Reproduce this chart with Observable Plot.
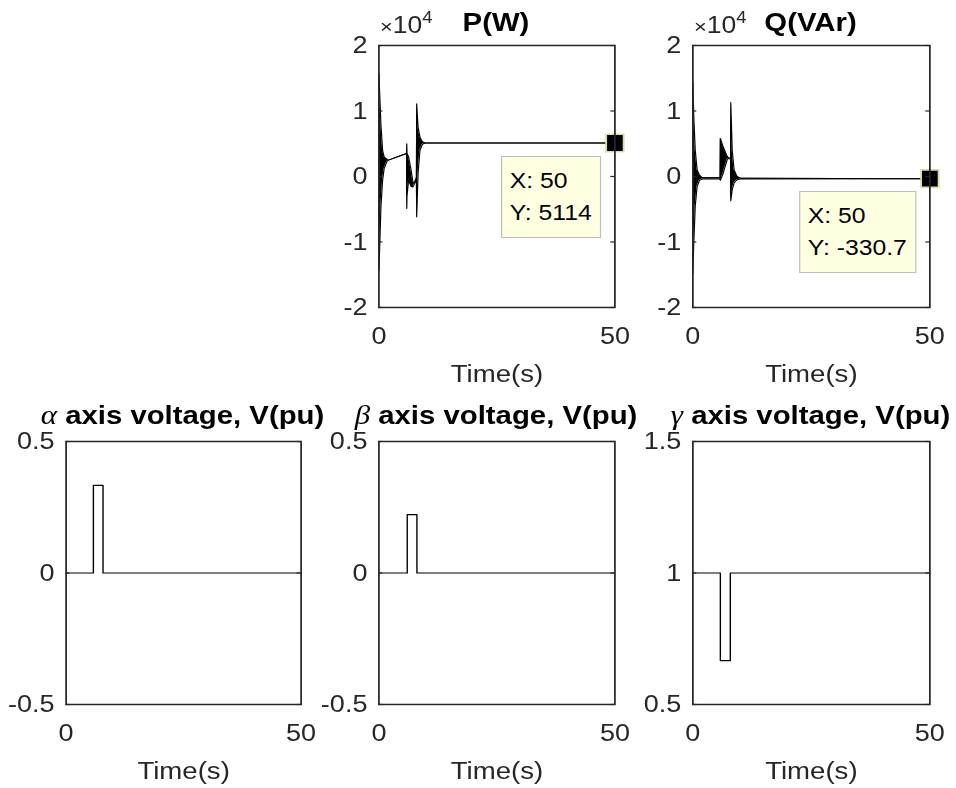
<!DOCTYPE html>
<html><head><meta charset="utf-8">
<script src="https://cdn.jsdelivr.net/npm/d3@7"></script>
<script src="https://cdn.jsdelivr.net/npm/@observablehq/plot@0.6"></script>
<style>
html,body{margin:0;padding:0;background:#fff;}
#page{position:relative;width:956px;height:788px;overflow:hidden;background:#fff;}
#wrap{position:absolute;left:0;top:0;height:788px;transform-origin:0 0;font-family:"Liberation Sans",Arial,sans-serif;}
.panel{position:absolute;}
.title{position:absolute;white-space:nowrap;font-weight:bold;color:#000;font-size:25.5px;line-height:24px;transform:translateX(-50%);}
.greek{font-family:"Liberation Serif","DejaVu Serif",serif;font-style:italic;font-weight:normal;font-size:27px;}
.exp{position:absolute;white-space:nowrap;color:#262626;font-size:23px;line-height:23px;}
.exp .times{font-size:19px;}
.exp sup{font-size:16px;vertical-align:10px;line-height:0;}
.tip{position:absolute;background:#ffffe1;border:1px solid #bdbdbd;color:#000;font-size:21.5px;line-height:32px;padding:8px 7px;white-space:nowrap;transform:translateX(-100%);}
</style></head><body><div id="page"><div id="wrap"></div></div>
<script>
// ---------------- data ----------------
const xTicks = [0, 50];
const pqTicks = [-20000, -10000, 0, 10000, 20000];
const alphaTicks = [-0.5, 0, 0.5];
const betaTicks = [-0.5, 0, 0.5];
const gammaTicks = [0.5, 1, 1.5];

// P(W): time, upper and lower envelope of the oscillating trace
const pTime  = [0,     0.2,   0.42,  0.78,  1.1,  1.7,  2.0,  5.85, 5.9,   5.95,  6.3,  6.8,   7.2,   7.5,   7.95, 8.0,   8.3,  8.7,  9.2,  9.8,  50];
const pUpper = [15700, 12000, 8000,  4000,  3000, 2600, 2500, 3500, 5000,  3500,  3000, 1000,  -800,  -1000, -200, 11100, 7500, 6000, 5300, 5120, 5114];
const pLower = [-14300,-10000,-4700, -600,  1200, 2300, 2500, 3500, -4900, -3000, -500, -1500, -1600, -1200, -400, -6200, 500,  4000, 4900, 5110, 5114];

// Q(VAr)
const qTime  = [0,     0.2,   0.5,   0.9,   1.4,  2.0,  5.75, 5.8,  6.4,  7.0,  7.3,  7.95, 8.0,   8.3,  8.7,  9.3,  10.1, 50];
const qUpper = [14500, 9000,  4000,  1000,  200,  -200, -200, 5800, 4500, 3500, 3000, 2700, 11300, 4000, 1000, 0,    -250, -330.7];
const qLower = [-14800,-10000,-4500, -1500, -600, -400, -400, -600, 500,  2000, 2700, 2700, -3700, -2000,-1000,-500, -400, -330.7];

// voltages (step after each time)
const alphaTime = [0, 5.8, 7.85, 50];
const alphaV    = [0, 0.333, 0, 0];
const betaTime  = [0, 6.0, 8.05, 50];
const betaV     = [0, 0.222, 0, 0];
const gammaTime = [0, 5.8, 7.9, 50];
const gammaV    = [1, 0.667, 1, 1];

// data tips
const pTip = {x: 50, y: 5114};
const qTip = {x: 50, y: -330.7};

// ---------------- layout ----------------
const S = 1.15;            // horizontal stretch of the original figure
const wrap = document.getElementById("wrap");
wrap.style.width = (956 / S) + "px";
wrap.style.transform = `scaleX(${S})`;

const mL = 70, mR = 24, mT = 50, mB = 84;
const frames = {
  P: {L: 378, R: 614, T: 45, B: 307},
  Q: {L: 692, R: 929, T: 45, B: 307},
  A: {L: 65,  R: 300, T: 441, B: 704},
  B: {L: 378, R: 614, T: 441, B: 704},
  G: {L: 692, R: 929, T: 441, B: 704}
};

const tipSymbol = {draw(ctx) { const s = 17.5; ctx.rect(-s / 2 / S, -s / 2, s / S, s); }};

function zip(t, a, b) { return t.map((d, i) => ({t: d, hi: a[i], lo: b[i]})); }

function panel(fr, yDomain, yTicks, yFormat, marks) {
  const fw = (fr.R - fr.L) / S, fh = fr.B - fr.T;
  const tl = 4 / S;
  const plot = Plot.plot({
    width: mL + fw + mR, height: mT + fh + mB,
    marginLeft: mL, marginRight: mR, marginTop: mT, marginBottom: mB,
    style: {background: "transparent", overflow: "visible", fontFamily: "Liberation Sans, Arial, sans-serif", fontSize: "23.5px", color: "#262626"},
    x: {domain: [0, 50], ticks: xTicks, tickSize: 0, tickPadding: 20, tickFormat: d => String(d), label: null},
    y: {domain: yDomain, ticks: yTicks, tickSize: 0, tickPadding: 10, tickFormat: yFormat, label: null},
    marks: [
      ...marks,
      Plot.ruleY(yTicks, {y: d => d, stroke: "#262626", strokeWidth: 1.2, insetRight: fw - tl}),
      Plot.ruleY(yTicks, {y: d => d, stroke: "#262626", strokeWidth: 1.2, insetLeft: fw - tl}),
      Plot.frame({stroke: "#262626", strokeWidth: 1.5}),
      Plot.text(["Time(s)"], {text: d => d, frameAnchor: "bottom", dy: 75, fontSize: 24, fill: "#262626"})
    ]
  });
  plot.classList.add("panel");
  const left = fr.L / S - mL, top = fr.T - mT;
  plot.style.position = "absolute";
  plot.style.left = left + "px";
  plot.style.top = top + "px";
  wrap.appendChild(plot);
  return {plot, left, top};
}

function envelopeMarks(data, tip) {
  return [
    Plot.areaY(data, {x: "t", y1: "lo", y2: "hi", fill: "black"}),
    Plot.line(data, {x: "t", y: "hi", stroke: "black", strokeWidth: 1}),
    Plot.line(data, {x: "t", y: "lo", stroke: "black", strokeWidth: 1}),
    Plot.dot([tip], {x: "x", y: "y", symbol: tipSymbol, r: 5, fill: "black", stroke: "#dcdcaa", strokeWidth: 1.6})
  ];
}
function stepMarks(t, v) {
  const data = t.map((d, i) => ({t: d, v: v[i]}));
  return [Plot.line(data, {x: "t", y: "v", curve: "step-after", stroke: "black", strokeWidth: 1.2})];
}

const fmt4 = d => String(d / 1e4);
const fmt = d => String(d);

const pP = panel(frames.P, [-20000, 20000], pqTicks, fmt4, envelopeMarks(zip(pTime, pUpper, pLower), pTip));
const pQ = panel(frames.Q, [-20000, 20000], pqTicks, fmt4, envelopeMarks(zip(qTime, qUpper, qLower), qTip));
panel(frames.A, [-0.5, 0.5], alphaTicks, fmt, stepMarks(alphaTime, alphaV));
panel(frames.B, [-0.5, 0.5], betaTicks, fmt, stepMarks(betaTime, betaV));
panel(frames.G, [0.5, 1.5], gammaTicks, fmt, stepMarks(gammaTime, gammaV));

// titles
function addDiv(cls, html, left, top) {
  const d = document.createElement("div");
  d.className = cls; d.innerHTML = html;
  d.style.left = left + "px"; d.style.top = top + "px";
  wrap.appendChild(d); return d;
}
const titleTop = b => b - 21;
function cx(fr) { return (fr.L + fr.R) / 2 / S; }
addDiv("title", "P(W)", cx(frames.P), titleTop(31));
addDiv("title", "Q(VAr)", cx(frames.Q), titleTop(31));
addDiv("title", '<span class="greek">α</span> axis voltage, V(pu)', cx(frames.A), titleTop(424));
addDiv("title", '<span class="greek">β</span> axis voltage, V(pu)', cx(frames.B), titleTop(424));
addDiv("title", '<span class="greek">γ</span> axis voltage, V(pu)', cx(frames.G), titleTop(424));
addDiv("exp", '<span class="times">×</span>10<sup>4</sup>', (frames.P.L + 2) / S, 14);
addDiv("exp", '<span class="times">×</span>10<sup>4</sup>', (frames.Q.L + 2) / S, 14);

// data tips
function addTip(p, tip) {
  const x = p.plot.scale("x").apply(tip.x) + p.left;
  const y = p.plot.scale("y").apply(tip.y) + p.top;
  addDiv("tip", `X: ${tip.x}<br>Y: ${tip.y}`, x - 13 / S, y + 13);
}
addTip(pP, pTip);
addTip(pQ, qTip);
</script></body></html>
